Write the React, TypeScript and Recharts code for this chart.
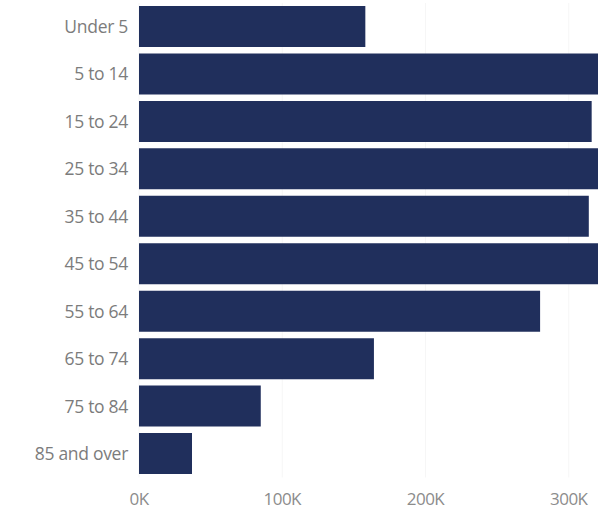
import React from 'react';
import { BarChart, Bar, XAxis, YAxis, CartesianGrid } from 'recharts';

const ageGroups = [
  'Under 5',
  '5 to 14',
  '15 to 24',
  '25 to 34',
  '35 to 44',
  '45 to 54',
  '55 to 64',
  '65 to 74',
  '75 to 84',
  '85 and over',
];

const population = [158000, 335000, 316000, 340000, 314000, 338000, 280000, 164000, 85000, 37000];

const xTicks = [0, 100000, 200000, 300000];

const data = ageGroups.map((age, i) => ({ age, population: population[i] }));

const yTickStyle = { fill: '#7c7c7c', fontSize: 17.5, fontFamily: 'Open Sans', letterSpacing: -0.3 };
const xTickStyle = { fill: '#8c8c8c', fontSize: 17, fontFamily: 'Open Sans', letterSpacing: -0.5 };

export default function App() {
  return (
    <div
      style={{
        position: 'fixed',
        top: 0,
        left: 0,
        width: 598,
        height: 515,
        overflow: 'hidden',
        background: '#fff',
      }}
    >
      <BarChart
        width={712}
        height={515}
        data={data}
        layout="vertical"
        margin={{ top: 3, right: 0, bottom: 0, left: 0 }}
      >
        <CartesianGrid horizontal={false} stroke="#f6f6f6" />
        <XAxis
          type="number"
          domain={[0, 400000]}
          ticks={xTicks}
          tickFormatter={(v: number) => `${v / 1000}K`}
          axisLine={false}
          tickLine={false}
          tickSize={0}
          tickMargin={15}
          height={37.5}
          tick={xTickStyle}
        />
        <YAxis
          type="category"
          dataKey="age"
          width={139}
          axisLine={false}
          tickLine={false}
          tickSize={0}
          tickMargin={11}
          tick={yTickStyle}
        />
        <Bar dataKey="population" fill="#202f5c" barSize={41} isAnimationActive={false} />
      </BarChart>
    </div>
  );
}
